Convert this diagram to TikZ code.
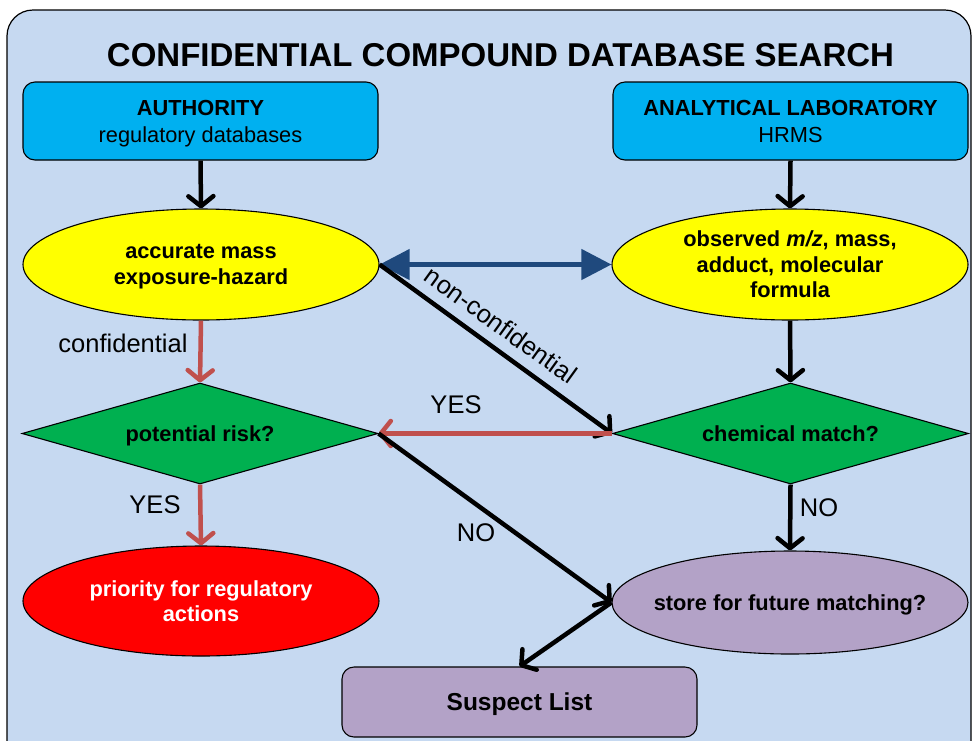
\documentclass[tikz,border=0pt]{standalone}
\usepackage{fontspec}
\setmainfont{Liberation Sans}
\usetikzlibrary{shapes.geometric,arrows.meta}
\definecolor{bgc}{HTML}{C6D9F1}
\definecolor{cyanbox}{HTML}{00B0F0}
\definecolor{yell}{HTML}{FFFF00}
\definecolor{grn}{HTML}{00B050}
\definecolor{redfill}{HTML}{FF0000}
\definecolor{purp}{HTML}{B3A2C7}
\definecolor{redarrow}{HTML}{C0504D}
\definecolor{bluearrow}{HTML}{1F497D}
\begin{document}
\begin{tikzpicture}[x=1pt,y=-1pt,
  shapeline/.style={draw=black, line width=1.1pt},
  boxtxt/.style={font=\fontsize{21.8}{27}\selectfont, align=center, inner sep=0pt, text depth=0pt},
  ellbold/.style={font=\bfseries\fontsize{21.8}{25.5}\selectfont, align=center, inner sep=0pt, text depth=0pt},
  rbox/.style={shapeline, rectangle, rounded corners=12pt, minimum width=355pt, inner sep=0pt},
  ell/.style={shapeline, ellipse, minimum width=356pt, inner sep=0pt},
  dia/.style={shapeline, diamond, aspect=3.5, minimum width=356pt, minimum height=101pt, inner sep=0pt, fill=grn},
  lbl/.style={font=\fontsize{25.5}{28}\selectfont, inner sep=0pt},
  arr/.style={line width=4.5pt, -{Straight Barb[length=10pt,width=25pt,round]}},
  blk/.style={arr, draw=black},
  redarr/.style={arr, draw=redarrow},
  bluearr/.style={line width=4.5pt, draw=bluearrow, {Triangle[length=30pt,width=30pt]}-{Triangle[length=30pt,width=30pt]}}
]
\clip (0,0) rectangle (973,740);
\path[fill=bgc, draw=black, line width=1.2pt, rounded corners=26pt] (7,10) rectangle (971,780);

\node[font=\bfseries\fontsize{33}{36}\selectfont, inner sep=0pt] (title) at (500.5,55) {CONFIDENTIAL COMPOUND DATABASE SEARCH};

\node[rbox, fill=cyanbox, minimum height=78pt, boxtxt] (auth) at (200.5,121) {\textbf{AUTHORITY}\\regulatory databases};
\node[rbox, fill=cyanbox, minimum height=78pt, boxtxt] (lab) at (790.5,121) {\textbf{ANALYTICAL LABORATORY}\\HRMS};

\node[ell, fill=yell, minimum height=111pt, ellbold] (ell1) at (201,264.5) {accurate mass\\exposure-hazard};
\node[ell, fill=yell, minimum height=111pt, ellbold] (ell2) at (790,264.5) {observed \textit{m/z}, mass,\\adduct, molecular\\formula};

\node[dia, ellbold] (dia1) at (200,433.5) {potential risk?};
\node[dia, ellbold] (dia2) at (790.5,433.5) {chemical match?};

\node[ell, fill=redfill, minimum height=110pt, ellbold, text=white] (prio) at (201,601) {priority for regulatory\\actions};
\node[ell, fill=purp, minimum height=103pt, ellbold] (store) at (790,602.5) {\makebox[0pt]{store for future matching?}};

\node[rbox, fill=purp, minimum height=70pt, font=\bfseries\fontsize{24.5}{27}\selectfont, text depth=0pt] (suspect) at (519.5,702) {Suspect List};

\draw[blk] (auth.south) -- (ell1.north);
\draw[blk] (lab.south) -- (ell2.north);
\draw[bluearr] (ell1.east) -- (ell2.west);
\draw[redarr] (ell1.south) -- (dia1.north);
\draw[blk] (ell1.east) -- (dia2.west);
\draw[blk] (ell2.south) -- (dia2.north);
\draw[redarr] (dia2.west) -- (dia1.east);
\draw[redarr] (dia1.south) -- (prio.north);
\draw[blk] (dia1.east) -- (store.west);
\draw[blk] (dia2.south) -- (store.north);
\draw[blk] (store.west) -- (suspect.north);

\node[lbl] (lconf) at (123,343) {confidential};
\node[lbl, rotate=-35.8] (lnc) at (501,325) {non-confidential};
\node[lbl] (lyes1) at (456,405) {YES};
\node[lbl] (lyes2) at (155,505) {YES};
\node[lbl] (lno1) at (476,533) {NO};
\node[lbl] (lno2) at (819,508) {NO};
\end{tikzpicture}
\end{document}
